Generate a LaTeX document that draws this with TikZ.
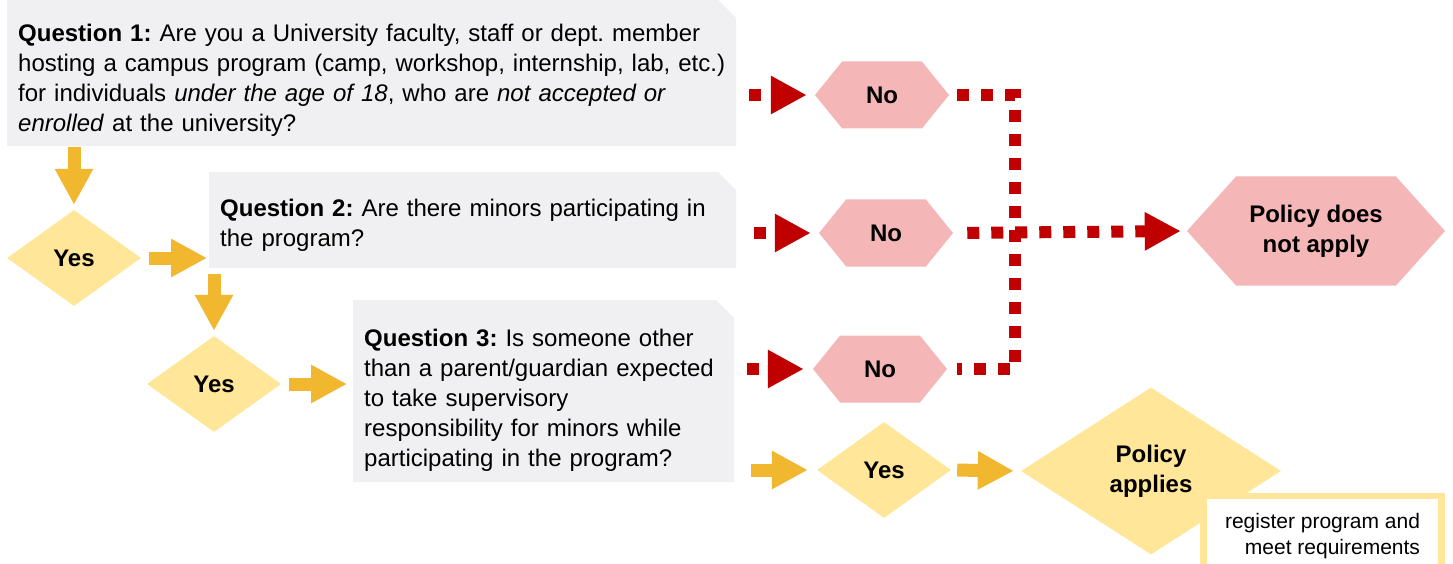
\documentclass[tikz,border=0pt]{standalone}
\usepackage{fontspec}
\setmainfont{Liberation Sans}
\usetikzlibrary{arrows.meta,shapes.geometric,shapes.symbols}

\definecolor{qgray}{RGB}{240,240,242}
\definecolor{yesfill}{RGB}{255,230,153}
\definecolor{goldarrow}{RGB}{240,183,47}
\definecolor{nofill}{RGB}{244,182,182}
\definecolor{darkred}{RGB}{192,0,0}

\frenchspacing

\begin{document}
\begin{tikzpicture}[x=1pt,y=-1pt,
  font=\fontsize{24}{30}\selectfont,
  qbox/.style={anchor=north west,inner xsep=11pt,inner ysep=0pt,align=left,
    path picture={\fill[qgray] (path picture bounding box.south west) -- (path picture bounding box.south east)
      -- ([yshift=-18pt]path picture bounding box.north east) -- ([xshift=-18pt]path picture bounding box.north east)
      -- (path picture bounding box.north west) -- cycle ;}},
  yesbox/.style={shape=diamond,fill=yesfill,minimum width=134pt,minimum height=96pt,inner sep=0pt,
    font=\fontsize{24}{30}\selectfont\bfseries},
  nobox/.style={shape=signal,signal to=west and east,signal pointer angle=102,fill=nofill,
    minimum width=134pt,minimum height=67pt,inner sep=0pt,font=\fontsize{24}{30}\selectfont\bfseries},
  goldarr/.style={draw=goldarrow,line width=13pt,-{Triangle[width=36pt,length=36pt]}},
  reddots/.style={draw=darkred,line width=12pt,dash pattern=on 12pt off 12pt},
  redarr/.style={reddots,-{Triangle[width=36pt,length=36pt]}}]

\useasboundingbox (0,0) rectangle (1453,564) ;

\node[qbox,text width=707pt,text height=41pt,text depth=105pt] (q_1) at (7,0)
  {\textbf{Question 1:} Are you a University faculty, staff or dept. member\\
   hosting a campus program (camp, workshop, internship, lab, etc.)\\
   for individuals \textit{under the age of 18}, who are \textit{not accepted or}\\
   \textit{enrolled} at the university?} ;
\node[qbox,text width=505pt,text height=44pt,text depth=52pt] (q_2) at (209,172)
  {\textbf{Question 2:} Are there minors participating in\\ the program?} ;
\node[qbox,text width=359pt,text height=46pt,text depth=136pt] (q_3) at (353,300)
  {\textbf{Question 3:} Is someone other\\ than a parent/guardian expected\\ to take supervisory\\
   responsibility for minors while\\ participating in the program?} ;

\node[yesbox] (yes_1) at (74,258) {Yes} ;
\node[yesbox] (yes_2) at (214,384) {Yes} ;
\node[yesbox] (yes_3) at (884,470) {Yes} ;
\node[yesbox,minimum width=260pt,minimum height=167pt,align=center] (applies) at (1151,471) {Policy\\applies} ;

\node[nobox] (no_1) at (882,95) {No} ;
\node[nobox] (no_2) at (886,233) {No} ;
\node[nobox] (no_3) at (880,369) {No} ;
\node[nobox,signal pointer angle=96,minimum width=258pt,minimum height=109pt,align=center] (not_apply) at (1316,231)
  {Policy does\\not apply} ;

\node[draw=yesfill,line width=6.5pt,fill=white,anchor=north,outer sep=0pt,minimum width=238pt,inner sep=0pt,
  align=right,text height=58pt,text depth=60pt,font=\fontsize{21}{26}\selectfont] (note_box) at (1322.5,496)
  {register program and\\meet requirements} ;

\draw[goldarr,shorten <=1pt,shorten >=5pt] (yes_1 |- q_1.south) -- (yes_1.north) ;
\draw[goldarr,shorten <=8pt,shorten >=2pt] (yes_1.east) -- (yes_1.east -| q_2.west) ;
\draw[goldarr,shorten <=6pt,shorten >=5pt] (yes_2 |- q_2.south) -- (yes_2.north) ;
\draw[goldarr,shorten <=8pt,shorten >=6pt] (yes_2.east) -- (yes_2.east -| q_3.west) ;

\coordinate (pt_yes_3) at (751,470) ;
\draw[goldarr,shorten >=9pt] (pt_yes_3) -- (yes_3.west) ;
\draw[goldarr,shorten <=6pt,shorten >=7pt] (yes_3.east) -- (applies.west) ;

\coordinate (pt_no_1) at (749,95) ;
\coordinate (pt_no_2) at (754,233) ;
\coordinate (pt_no_3) at (747,369) ;
\draw[redarr,shorten >=8pt] (pt_no_1) -- (no_1.west) ;
\draw[redarr,shorten >=8pt] (pt_no_2) -- (no_2.west) ;
\draw[redarr,shorten >=9pt] (pt_no_3) -- (no_3.west) ;

\coordinate (jn_top) at (1014.5,95) ;
\coordinate (jn_bot) at (1014.5,369) ;
\draw[reddots,shorten <=8pt,shorten >=10pt] (no_1.east) -- (jn_top) -- (jn_bot) -- (no_3.east) ;
\draw[redarr,shorten <=14pt,shorten >=6pt] (no_2.east) -- (not_apply.west) ;

\end{tikzpicture}
\end{document}
